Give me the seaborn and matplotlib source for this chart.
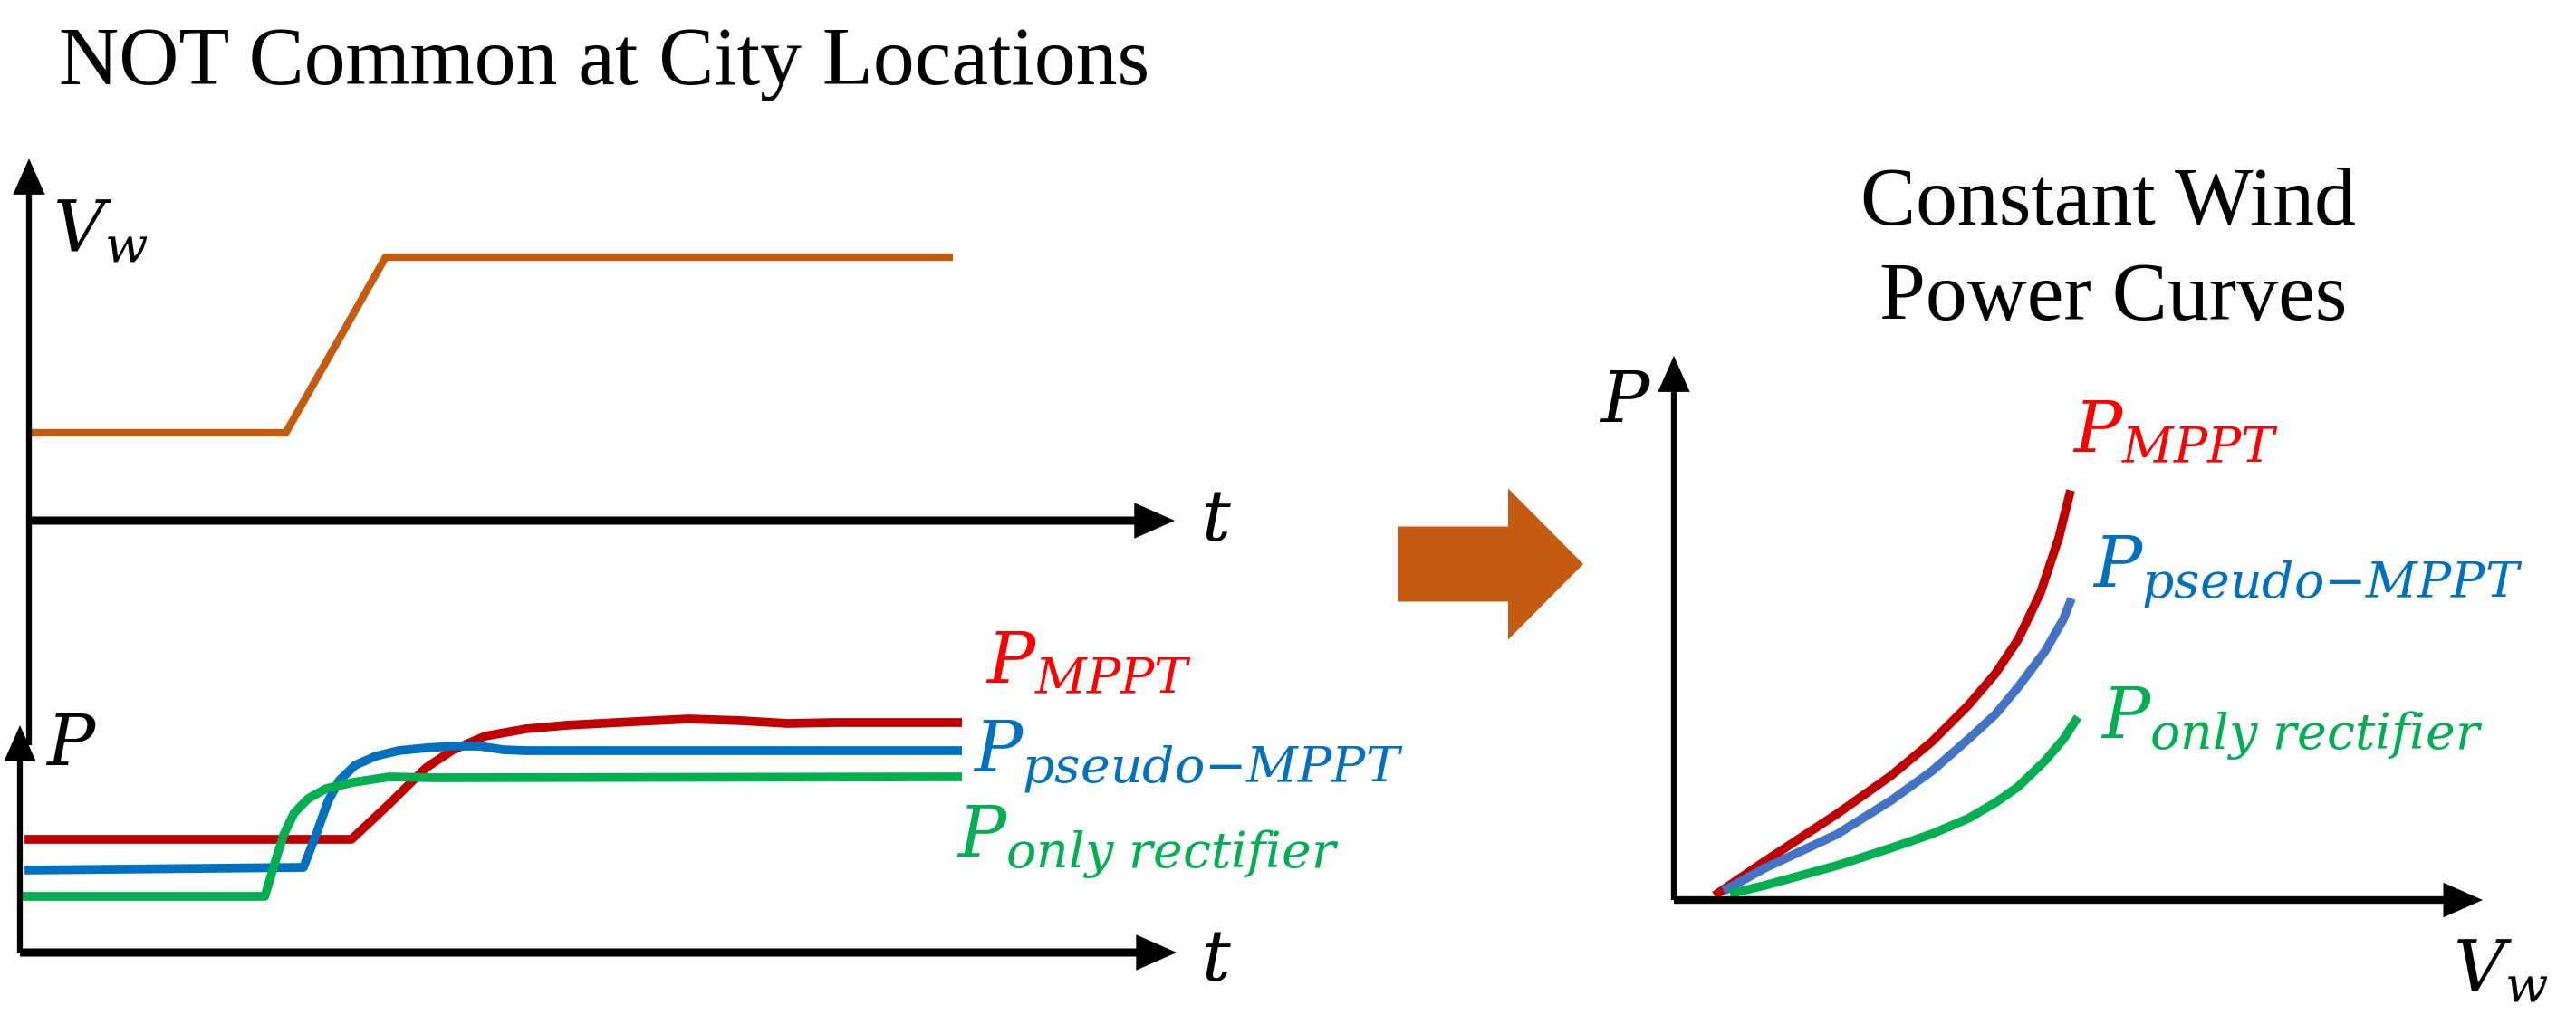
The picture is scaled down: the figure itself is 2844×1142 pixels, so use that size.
import matplotlib
matplotlib.use("Agg")
import matplotlib.pyplot as plt
from matplotlib.patches import FancyArrow
import pandas as pd
import seaborn as sns

# ---------------- data ----------------
# top-left: wind speed step
vw_t = [0.0, 2.78, 3.86, 10.0]
vw_val = [1.0, 1.0, 3.0, 3.0]

# bottom-left: power response over time
mppt_t = [0.05, 3.52, 3.92, 4.31, 4.60, 4.94, 5.37, 5.80, 6.52, 7.10, 7.67, 8.15, 8.63, 10.0]
mppt_p = [5.0, 5.0, 6.56, 8.16, 8.96, 9.56, 9.88, 10.04, 10.2, 10.32, 10.24, 10.12, 10.16, 10.16]
pseudo_t = [0.05, 3.01, 3.15, 3.27, 3.39, 3.56, 3.78, 4.02, 4.31, 4.60, 4.88, 5.13, 5.37, 10.0]
pseudo_p = [3.64, 3.76, 5.28, 6.68, 7.6, 8.28, 8.68, 8.92, 9.04, 9.12, 9.12, 8.96, 8.92, 8.92]
rect_t = [0.0, 2.60, 2.70, 2.80, 2.91, 3.06, 3.25, 3.54, 3.92, 4.40, 10.0]
rect_p = [2.48, 2.48, 3.88, 5.2, 6.16, 6.8, 7.24, 7.52, 7.76, 7.72, 7.76]

# right: constant wind power curves
curve_mppt_v = [0.9, 2.0, 3.6, 4.8, 5.7, 6.5, 7.1, 7.6, 8.1, 8.5, 8.76]
curve_mppt_p = [0.1, 0.85, 1.9, 2.75, 3.5, 4.3, 5.0, 5.75, 6.8, 8.0, 9.05]
curve_pseudo_v = [1.1, 2.0, 3.6, 4.8, 5.7, 6.5, 7.1, 7.6, 8.2, 8.6, 8.78]
curve_pseudo_p = [0.2, 0.7, 1.45, 2.2, 2.85, 3.55, 4.1, 4.7, 5.5, 6.2, 6.66]
curve_rect_v = [1.24, 2.0, 3.6, 4.8, 5.7, 6.5, 7.1, 7.6, 8.2, 8.6, 8.92]
curve_rect_p = [0.14, 0.32, 0.76, 1.15, 1.46, 1.8, 2.15, 2.5, 3.08, 3.55, 4.04]

title_left = "NOT Common at City Locations"
title_right = ["Constant Wind", "Power Curves"]
lbl_mppt = r"$P_{MPPT}$"
lbl_pseudo = r"$P_{pseudo{-}MPPT}$"
lbl_rect = r"$P_{only\ rectifier}$"

# ---------------- style ----------------
sns.set_theme(style="white")
plt.rcParams["font.family"] = ["Liberation Serif", "DejaVu Serif"]
plt.rcParams["mathtext.fontset"] = "dejavuserif"
plt.rcParams["text.color"] = "black"

W, H = 2844, 1142
fig = plt.figure(figsize=(W / 100, H / 100), dpi=100)
fig.patch.set_facecolor("white")

ORANGE = "#C55A11"
RED_L, BLUE_L, GREEN_L = "#C00000", "#0070C0", "#00B050"
RED_T, BLUE_T, GREEN_T = "#FF0000", "#0070C0", "#00B050"
BLUE_R = "#4472C4"


def px_axes(x0, y_top, x1, y_bot):
    ax = fig.add_axes([x0 / W, 1 - y_bot / H, (x1 - x0) / W, (y_bot - y_top) / H])
    ax.set_axis_off()
    ax.patch.set_alpha(0)
    return ax


def axis_arrow(ax, start, end, lw):
    ax.annotate("", xy=end, xytext=start, xycoords="axes fraction",
                textcoords="axes fraction",
                arrowprops=dict(arrowstyle="-|>,head_length=0.95,head_width=0.42",
                                mutation_scale=22, lw=lw, color="black",
                                shrinkA=0, shrinkB=0, joinstyle="miter",
                                capstyle="butt"),
                annotation_clip=False)


def ftext(x, y, s, **kw):
    fig.text(x / W, 1 - y / H, s, **kw)


def line(ax, x, y, color, lw):
    df = pd.DataFrame({"x": x, "y": y})
    sns.lineplot(data=df, x="x", y="y", ax=ax, color=color, lw=lw,
                 sort=False, estimator=None, solid_capstyle="butt",
                 solid_joinstyle="round", clip_on=False, legend=False)
    ax.set_axis_off()


# ---------------- top-left panel ----------------
ax1 = px_axes(32, 175, 1297, 575)
ax1.set_xlim(0, (1297 - 32) / 102)
ax1.set_ylim(0, (575 - 175) / 97)
line(ax1, vw_t, vw_val, ORANGE, 6)
axis_arrow(ax1, (0, 0), (1, 0), 6.5)
axis_arrow(ax1, (0, -0.62), (0, 1), 4.5)

# ---------------- bottom-left panel ----------------
ax2 = px_axes(22, 801, 1299, 1052)
ax2.set_xlim(0, (1299 - 22) / 104)
ax2.set_ylim(0, (1052 - 801) / 25)
line(ax2, mppt_t, mppt_p, RED_L, 7)
line(ax2, pseudo_t, pseudo_p, BLUE_L, 7)
line(ax2, rect_t, rect_p, GREEN_L, 7)
axis_arrow(ax2, (0, 0), (1, 0), 6.5)
axis_arrow(ax2, (0, 0), (0, 1), 4.5)

# ---------------- right panel ----------------
ax3 = px_axes(1848, 393, 2741, 994)
ax3.set_xlim(0, (2741 - 1848) / 50)
ax3.set_ylim(0, (994 - 393) / 50)
line(ax3, curve_mppt_v, curve_mppt_p, RED_L, 7)
line(ax3, curve_pseudo_v, curve_pseudo_p, BLUE_R, 7)
line(ax3, curve_rect_v, curve_rect_p, GREEN_L, 7)
axis_arrow(ax3, (0, 0), (1, 0), 6)
axis_arrow(ax3, (0, 0), (0, 1), 4.5)

# ---------------- block arrow ----------------
arrow = FancyArrow(1543 / W, 1 - 623 / H, (1748 - 1543) / W, 0,
                   width=83 / H, head_width=167 / H, head_length=83 / W,
                   length_includes_head=True, transform=fig.transFigure,
                   color=ORANGE, lw=0)
fig.patches.append(arrow)

# ---------------- texts ----------------
FS_T = 66
FS_M = 57
ftext(65, 93, title_left, fontsize=FS_T, ha="left", va="baseline")
ftext(2327, 248, title_right[0], fontsize=FS_T, ha="center", va="baseline")
ftext(2333, 353, title_right[1], fontsize=FS_T, ha="center", va="baseline")

ftext(58, 278, r"$V_w$", fontsize=FS_M, ha="left", va="baseline")
ftext(1326, 597, r"$t$", fontsize=FS_M, ha="left", va="baseline")
ftext(50, 845, r"$P$", fontsize=FS_M, ha="left", va="baseline")
ftext(1326, 1083, r"$t$", fontsize=FS_M, ha="left", va="baseline")
ftext(1766, 466, r"$P$", fontsize=FS_M, ha="left", va="baseline")
ftext(2708, 1095, r"$V_w$", fontsize=FS_M, ha="left", va="baseline")

ftext(1088, 754, lbl_mppt, fontsize=FS_M, color=RED_T, ha="left", va="baseline")
ftext(1074, 852, lbl_pseudo, fontsize=FS_M, color=BLUE_T, ha="left", va="baseline")
ftext(1056, 947, lbl_rect, fontsize=FS_M, color=GREEN_T, ha="left", va="baseline")

ftext(2288, 499, lbl_mppt, fontsize=FS_M, color=RED_T, ha="left", va="baseline")
ftext(2310, 648, lbl_pseudo, fontsize=FS_M, color=BLUE_T, ha="left", va="baseline")
ftext(2319, 816, lbl_rect, fontsize=FS_M, color=GREEN_T, ha="left", va="baseline")

fig.savefig("out.png", dpi=100, facecolor="white")
